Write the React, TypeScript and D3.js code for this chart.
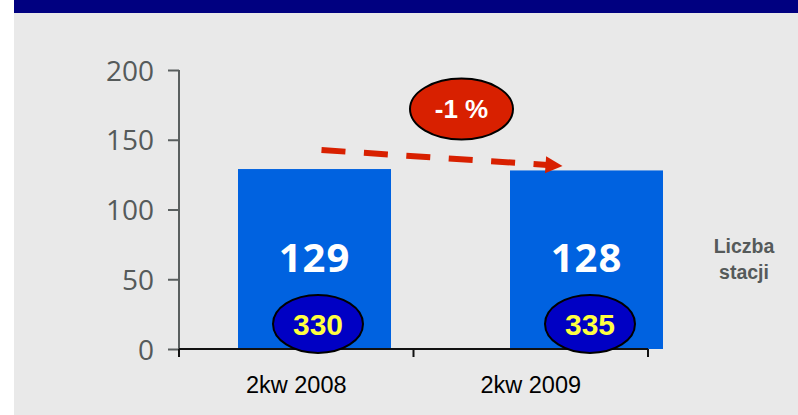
import * as d3 from 'd3';
import React from 'react';

// data
const categories = ['2kw 2008', '2kw 2009'];
const stations = [129, 128];
const bubbleValues = [330, 335];
const yTicks = [0, 50, 100, 150, 200];
const changeLabel = '-1 %';
const seriesLabel = ['Liczba', 'stacji'];

const W = 798;
const H = 415;

function App() {
  const ref = React.useRef<SVGSVGElement>(null);

  React.useEffect(() => {
    const svg = d3.select(ref.current);
    svg.selectAll('*').remove();

    // panel + header band
    svg.append('rect').attr('width', W).attr('height', H).attr('fill', '#ffffff');
    svg.append('rect').attr('x', 14).attr('y', 0).attr('width', W - 14).attr('height', H).attr('fill', '#e9e9e9');
    svg.append('rect').attr('x', 14).attr('y', 0).attr('width', W - 14).attr('height', 13).attr('fill', '#000080');

    const y = d3.scaleLinear().domain([0, 200]).range([349, 70]);
    // category axis (labels + ticks)
    const x = d3.scaleBand().domain(categories).range([179, 648]);
    // bars sit a bit to the right of the axis bands, like in the source slide
    const xb = d3.scaleBand().domain(categories).range([238, 663]).paddingInner(0.4375).paddingOuter(0);

    // y axis
    const yAxis = svg.append('g').attr('transform', 'translate(179,0)')
      .call(d3.axisLeft(y).tickValues(yTicks).tickSize(11).tickPadding(14).tickFormat(d3.format('d')));
    yAxis.select('.domain').attr('stroke', '#5a5f5f').attr('stroke-width', 2)
      .attr('d', `M0,${y(200)}V${y(0) + 8}`);
    yAxis.selectAll('.tick line').attr('stroke', '#5a5f5f').attr('stroke-width', 2);
    yAxis.selectAll('.tick text')
      .attr('fill', '#555a5a')
      .attr('font-family', 'Open Sans')
      .attr('font-size', 28)
      .attr('dy', '0.36em');

    // bars
    svg.append('g').selectAll('rect').data(stations).join('rect')
      .attr('x', (_, i) => xb(categories[i]))
      .attr('y', d => y(d))
      .attr('width', xb.bandwidth())
      .attr('height', d => y(0) - y(d))
      .attr('fill', '#0062e0');

    // x axis
    const xAxis = svg.append('g').attr('transform', `translate(0,${y(0)})`)
      .call(d3.axisBottom(x).tickSize(0).tickPadding(27));
    xAxis.select('.domain').attr('stroke', '#111').attr('stroke-width', 2)
      .attr('d', `M179,0H648`);
    xAxis.selectAll('.tick text')
      .attr('fill', '#000')
      .attr('font-family', 'Liberation Sans')
      .attr('font-size', 23.5);
    const xt = svg.append('g').attr('stroke', '#111').attr('stroke-width', 2);
    [x.range()[0], x.range()[0] + x.step(), x.range()[1]].forEach(px => {
      xt.append('line').attr('x1', px).attr('x2', px).attr('y1', y(0)).attr('y2', y(0) + 8);
    });

    // value labels inside bars
    svg.append('g').selectAll('text').data(stations).join('text')
      .attr('x', (_, i) => xb(categories[i])! + xb.bandwidth() / 2)
      .attr('y', y(55))
      .attr('text-anchor', 'middle')
      .attr('fill', '#fff')
      .attr('font-family', 'Open Sans')
      .attr('font-weight', 700)
      .attr('font-size', 40)
      .attr('letter-spacing', 1)
      .text(d => d);

    // blue bubbles with yellow numbers
    const bub = svg.append('g').selectAll('g').data(bubbleValues).join('g')
      .attr('transform', (_, i) => `translate(${xb(categories[i])! + xb.bandwidth() / 2 + 3.5},${y(18)})`);
    bub.append('ellipse').attr('rx', 45).attr('ry', 29)
      .attr('fill', '#0000c4').attr('stroke', '#000').attr('stroke-width', 2);
    bub.append('text')
      .attr('text-anchor', 'middle').attr('dy', '0.36em')
      .attr('fill', '#ffff40')
      .attr('font-family', 'Liberation Sans')
      .attr('font-weight', 700)
      .attr('font-size', 30)
      .text(d => d);

    // dashed change arrow between bars
    const c0 = xb(categories[0])! + xb.bandwidth() / 2;
    const c1 = xb(categories[1])! + xb.bandwidth() / 2;
    const ax0 = c0 + 7, ay0 = y(stations[0]) - 19;
    const ax1 = c1 - 24, ay1 = y(stations[1]) - 4.5;
    const ang = Math.atan2(ay1 - ay0, ax1 - ax0);
    const head = 17;
    const bx = ax1 - head * Math.cos(ang), by = ay1 - head * Math.sin(ang);
    svg.append('line')
      .attr('x1', ax0).attr('y1', ay0).attr('x2', bx + 2 * Math.cos(ang)).attr('y2', by + 2 * Math.sin(ang))
      .attr('stroke', '#d82000').attr('stroke-width', 6)
      .attr('stroke-dasharray', '24 18.5');
    const nx = -Math.sin(ang), ny = Math.cos(ang);
    svg.append('path')
      .attr('d', `M${ax1},${ay1}L${bx + 8.5 * nx},${by + 8.5 * ny}L${bx - 8.5 * nx},${by - 8.5 * ny}Z`)
      .attr('fill', '#d82000');

    // change bubble
    const cg = svg.append('g').attr('transform', `translate(${(c0 + c1) / 2 + 11},${y(172)})`);
    cg.append('ellipse').attr('rx', 51.5).attr('ry', 30.5)
      .attr('fill', '#d82000').attr('stroke', '#000').attr('stroke-width', 2);
    cg.append('text')
      .attr('text-anchor', 'middle').attr('dy', '0.36em')
      .attr('fill', '#fff')
      .attr('font-family', 'Liberation Sans')
      .attr('font-weight', 700)
      .attr('font-size', 26)
      .text(changeLabel);

    // series label on the right
    svg.append('text')
      .attr('x', 744).attr('y', 253)
      .attr('text-anchor', 'middle')
      .attr('fill', '#555a5a')
      .attr('font-family', 'Liberation Sans')
      .attr('font-weight', 700)
      .attr('font-size', 19.5)
      .selectAll('tspan').data(seriesLabel).join('tspan')
      .attr('x', 744).attr('dy', (_, i) => (i ? 26 : 0))
      .text(d => d);
  }, []);

  return (
    <div style={{ position: 'absolute', left: 0, top: 0 }}>
      <svg ref={ref} width={W} height={H} style={{ display: 'block' }} />
    </div>
  );
}

export default App;
